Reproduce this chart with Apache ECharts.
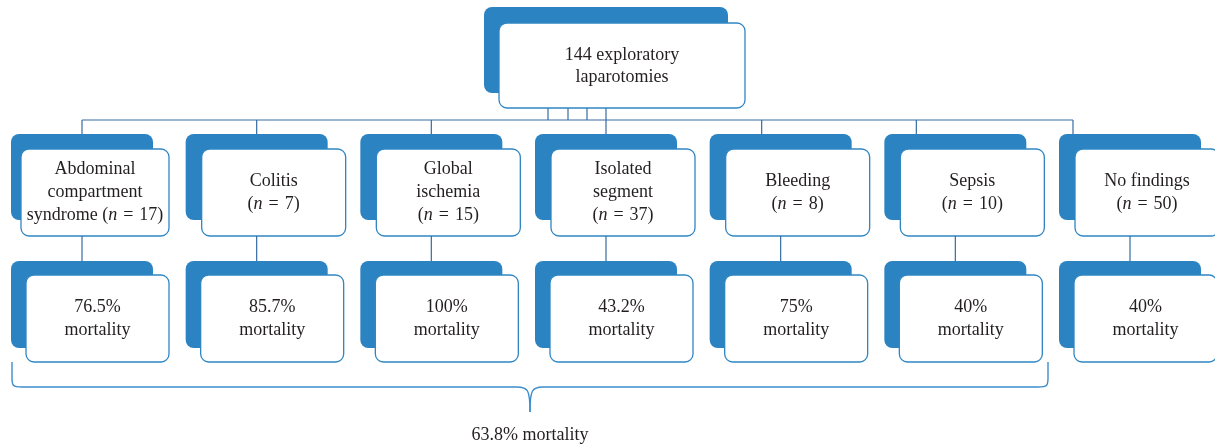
<!DOCTYPE html>
<html>
<head>
<meta charset="utf-8">
<script src="https://cdn.jsdelivr.net/npm/echarts@6/dist/echarts.min.js"></script>
<style>
html,body{margin:0;padding:0;background:#fff;}
#chart{width:1215px;height:447px;}
</style>
</head>
<body>
<div id="chart"></div>
<script>
// ---- data ----
const totalLaparotomies = 144;
const categories = ['Abdominal\ncompartment\nsyndrome', 'Colitis', 'Global\nischemia', 'Isolated\nsegment', 'Bleeding', 'Sepsis', 'No findings'];
const counts = [17, 7, 15, 37, 8, 10, 50];
const mortality = ['76.5%', '85.7%', '100%', '43.2%', '75%', '40%', '40%'];
const countOnSameLine = [true, false, false, false, false, false, false];
const pooledMortality = '63.8%';

// ---- style ----
const FONT = '"Liberation Serif", "DejaVu Serif", serif';
const FS = 18;
const LH = 23;
const TXT = '#231f20';
const BLUE = '#2b83c2';
const EDGE = '#2f86c3';
const LINE = '#356c9f';
const BRACKET = '#3b8dcc';

const chart = echarts.init(document.getElementById('chart'));

const rich = {
  it: { fontStyle: 'italic', fontFamily: FONT, fontSize: FS, lineHeight: LH, fill: TXT, color: TXT }
};

function labelText(i) {
  const nPart = '{it|n}\u2004=\u2004' + counts[i] + ')';
  return categories[i] + (countOnSameLine[i] ? ' (' : '\n(') + nPart;
}

// column index -> offset for upper connector (as drawn in reference)
const topConnectorShift = [0, 0, 0, 0, -19, -39, -57];

function renderItem(params, api) {
  const i = api.value(0);
  const cx = api.coord([i, 0])[0];
  const bx = cx - 71;
  const w2x = i === 0 ? cx - 61 : cx - 55;
  const w2w = i === 0 ? 148 : 144;
  const tx = cx + topConnectorShift[i];
  return {
    type: 'group',
    children: [
      { type: 'line', shape: { x1: tx, y1: 120, x2: tx, y2: 134 }, style: { stroke: LINE, lineWidth: 1.2 } },
      { type: 'rect', shape: { x: bx, y: 134, width: 142, height: 86, r: 8 }, style: { fill: BLUE } },
      { type: 'rect', shape: { x: w2x, y: 149, width: w2w, height: 87, r: 8 }, style: { fill: '#fff', stroke: EDGE, lineWidth: 1.3 } },
      { type: 'text', x: w2x + w2w / 2, y: 192.5, style: { text: labelText(i), align: 'center', verticalAlign: 'middle', fontFamily: FONT, fontSize: FS, lineHeight: LH, fill: TXT, rich: rich } },
      { type: 'line', shape: { x1: cx, y1: 236, x2: cx, y2: 261 }, style: { stroke: LINE, lineWidth: 1.2 } },
      { type: 'rect', shape: { x: bx, y: 261, width: 142, height: 87, r: 8 }, style: { fill: BLUE } },
      { type: 'rect', shape: { x: cx - 56, y: 275, width: 143, height: 87, r: 8 }, style: { fill: '#fff', stroke: EDGE, lineWidth: 1.3 } },
      { type: 'text', x: cx + 15.5, y: 318.5, style: { text: mortality[i] + '\nmortality', align: 'center', verticalAlign: 'middle', fontFamily: FONT, fontSize: FS, lineHeight: LH, fill: TXT } }
    ]
  };
}

const seriesData = categories.map((c, i) => [i, 0]);

function ln(x1, y1, x2, y2, color, w) {
  return { type: 'line', shape: { x1, y1, x2, y2 }, style: { stroke: color, lineWidth: w }, z: 1 };
}
function bz(x1, y1, cpx1, cpy1, cpx2, cpy2, x2, y2) {
  return { type: 'bezierCurve', shape: { x1, y1, cpx1, cpy1, cpx2, cpy2, x2, y2 }, style: { stroke: BRACKET, fill: null, lineWidth: 1.4 }, z: 1 };
}

const option = {
  animation: false,
  backgroundColor: '#fff',
  grid: { left: 82, right: 85, top: 0, bottom: 0 },
  xAxis: { type: 'value', min: 0, max: categories.length - 1, show: false },
  yAxis: { type: 'value', min: 0, max: 1, show: false },
  graphic: [
    // top box
    { type: 'rect', shape: { x: 484, y: 7, width: 244, height: 86, r: 8 }, style: { fill: BLUE }, z: 1 },
    { type: 'rect', shape: { x: 499, y: 23, width: 246, height: 85, r: 8 }, style: { fill: '#fff', stroke: EDGE, lineWidth: 1.3 }, z: 2 },
    { type: 'text', x: 622, y: 66, style: { text: totalLaparotomies + ' exploratory\nlaparotomies', align: 'center', verticalAlign: 'middle', fontFamily: FONT, fontSize: FS, lineHeight: 22, fill: TXT }, z: 3 },
    // connectors below top box
    ln(548, 108, 548, 120, LINE, 1.2),
    ln(568, 108, 568, 120, LINE, 1.2),
    ln(587, 108, 587, 120, LINE, 1.2),
    ln(606, 108, 606, 120, LINE, 1.2),
    ln(82, 120, 1073, 120, LINE, 1.2),
    // bracket
    ln(12, 362, 12, 378, BRACKET, 1.4),
    bz(12, 378, 12, 386, 13, 387, 22, 387),
    ln(22, 387, 517, 387, BRACKET, 1.4),
    bz(517, 387, 528, 387, 530, 390, 530, 412),
    bz(543, 387, 532, 387, 530, 390, 530, 412),
    ln(543, 387, 1038, 387, BRACKET, 1.4),
    bz(1038, 387, 1047, 387, 1048, 386, 1048, 378),
    ln(1048, 378, 1048, 362, BRACKET, 1.4),
    { type: 'text', x: 530, y: 435, style: { text: pooledMortality + ' mortality', align: 'center', verticalAlign: 'middle', fontFamily: FONT, fontSize: FS, fill: TXT }, z: 3 }
  ],
  series: [{
    type: 'custom',
    renderItem: renderItem,
    data: seriesData,
    clip: false
  }]
};
chart.setOption(option);
</script>
</body>
</html>
